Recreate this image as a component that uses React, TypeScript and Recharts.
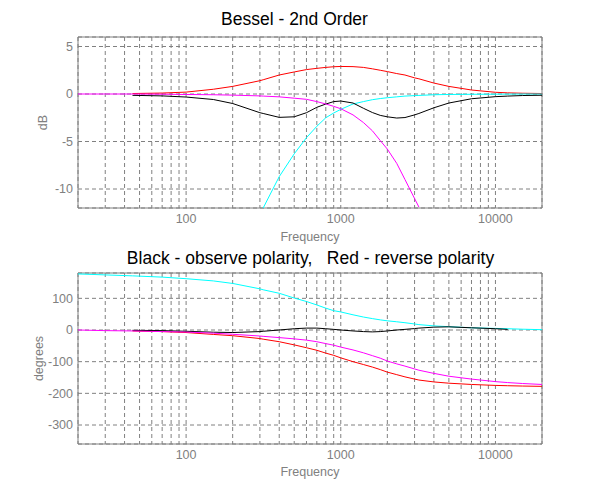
import { LineChart, Line, XAxis, YAxis, CartesianGrid, ReferenceArea } from 'recharts';

const freqs = [20, 30, 45, 70, 100, 150, 200, 300, 315, 400, 500, 600, 700, 800, 900, 1000, 1200, 1400, 1600, 1800, 2000, 2300, 2600, 3000, 3200, 4000, 5000, 7000, 10000, 12000, 15000, 20000];

// magnitude, dB
const redDb = [null, null, 0.05, 0.1, 0.2, 0.5, 0.8, 1.4, 1.5, 2.0, 2.32, 2.57, 2.7, 2.8, 2.87, 2.9, 2.88, 2.8, 2.65, 2.5, 2.36, 2.15, 2.0, 1.7, 1.6, 1.15, 0.8, 0.42, 0.18, 0.12, 0.08, 0.05];
const blackDb = [null, null, -0.14, -0.2, -0.32, -0.58, -1.0, -1.97, -2.05, -2.46, -2.4, -1.97, -1.4, -1.06, -0.8, -0.74, -0.95, -1.5, -1.95, -2.25, -2.4, -2.53, -2.48, -2.2, -2.05, -1.45, -0.95, -0.5, -0.28, -0.22, -0.16, -0.13];
const magentaDb = [0, 0, 0, -0.02, -0.05, -0.08, -0.12, -0.2, -0.22, -0.3, -0.44, -0.56, -0.8, -1.05, -1.3, -1.55, -2.2, -3.0, -3.87, -4.9, -5.8, -7.3, -9.0, -11.0, -11.9, null, null, null, null, null, null, null];
const cyanDb = [null, null, null, null, null, null, null, null, -12.0, -8.7, -6.3, -4.6, -3.4, -2.5, -2.0, -1.62, -1.05, -0.8, -0.6, -0.48, -0.39, -0.3, -0.22, -0.17, -0.15, -0.08, -0.05, -0.03, -0.02, -0.01, 0, 0];

// phase, degrees
const redDeg = [null, null, -3, -5, -8, -14, -18, -27, -29, -37, -47, -56, -64, -73, -80, -88, -100, -109, -117, -125, -133, -141, -148, -155, -158, -164, -168, -172, -175, -176, -177, -178];
const blackDeg = [null, null, -1, -2, -4, -7, -8, -5, -4, 0, 4, 6, 6, 4, 2, 0, -3, -5, -6, -5, -3, 0, 2, 4.5, 6, 9, 10, 7, 4, 2, null, null];
const magentaDeg = [0, -2, -3, -5, -6.5, -10, -13.5, -19, -20, -24, -28, -32, -37, -43, -48, -54, -63, -72, -81, -89, -98, -107, -114, -123, -127, -137, -146, -155, -163, -166, -169, -172];
const cyanDeg = [177, 174, 171, 167, 162, 155, 147, 130, 127, 116, 101, 90, 79, 69, 61, 57, 48, 41, 36, 32, 29, 26, 23, 19, 17, 13, 10.5, 7, 5, 4, 2.5, 1];

const freqTicks = [20, 30, 40, 50, 60, 70, 80, 90, 100, 200, 300, 400, 500, 600, 700, 800, 900, 1000, 2000, 3000, 4000, 5000, 6000, 7000, 8000, 9000, 10000, 20000];
const freqLabels = [100, 1000, 10000];
const dbTicks = [-10, -5, 0, 5];
const degTicks = [-300, -200, -100, 0, 100];

const magData = freqs.map((f, i) => ({ f, red: redDb[i], black: blackDb[i], magenta: magentaDb[i], cyan: cyanDb[i] }));
const phaseData = freqs.map((f, i) => ({ f, red: redDeg[i], black: blackDeg[i], magenta: magentaDeg[i], cyan: cyanDeg[i] }));

const FONT = '"Liberation Sans", Arial, sans-serif';
const GRAY = '#808080';
const tickStyle = { fill: GRAY, fontSize: 12.5 };

function Panel({ data, height, top, xHeight, yDomain, yTicks, yLabel, labelOffset, labelDx }: any) {
  return (
    <LineChart
      width={600}
      height={height}
      data={data}
      margin={{ top, right: 58, bottom: 0, left: 0 }}
      style={{ fontFamily: FONT }}
    >
      <CartesianGrid stroke={GRAY} strokeDasharray="4 3" />
      <XAxis
        dataKey="f"
        type="number"
        scale="log"
        domain={[20, 20000]}
        allowDataOverflow
        ticks={freqTicks}
        interval={0}
        tickFormatter={(v: number) => (freqLabels.includes(v) ? String(v) : '')}
        tick={tickStyle}
        tickLine={false}
        axisLine={false}
        tickSize={0}
        tickMargin={6}
        height={xHeight}
        label={{ value: 'Frequency', position: 'insideBottom', offset: labelOffset, fill: GRAY, fontSize: 12.5 }}
      />
      <YAxis
        type="number"
        domain={yDomain}
        allowDataOverflow
        ticks={yTicks}
        interval={0}
        tick={tickStyle}
        tickLine={false}
        axisLine={false}
        tickSize={0}
        tickMargin={5}
        width={78}
        label={{ value: yLabel, angle: -90, position: 'center', dx: labelDx, fill: GRAY, fontSize: 12.5 }}
      />
      <ReferenceArea x1={20} x2={20000} y1={yDomain[0]} y2={yDomain[1]} fill="none" stroke={GRAY} />
      <Line dataKey="red" stroke="#ff0000" dot={false} strokeWidth={1} isAnimationActive={false} />
      <Line dataKey="cyan" stroke="#00ffff" dot={false} strokeWidth={1} isAnimationActive={false} />
      <Line dataKey="black" stroke="#000000" dot={false} strokeWidth={1} isAnimationActive={false} />
      <Line dataKey="magenta" stroke="#ff00ff" dot={false} strokeWidth={1} isAnimationActive={false} />
    </LineChart>
  );
}

const titleStyle: any = {
  position: 'absolute',
  fontFamily: FONT,
  fontSize: 17.5,
  lineHeight: '20px',
  color: '#000',
  textAlign: 'center',
  whiteSpace: 'pre',
};

export default function App() {
  return (
    <div style={{ position: 'absolute', left: 0, top: 0, width: 600, height: 500, background: '#fff' }}>
      <div style={{ position: 'absolute', left: 0, top: 0 }}>
        <Panel data={magData} height={250} top={37} xHeight={42} yDomain={[-12, 6]} yTicks={dbTicks} yLabel="dB" labelOffset={9} labelDx={4} />
      </div>
      <div style={{ position: 'absolute', left: 0, top: 240 }}>
        <Panel data={phaseData} height={260} top={33} xHeight={56} yDomain={[-360, 180]} yTicks={degTicks} yLabel="degrees" labelOffset={24} labelDx={0} />
      </div>
      <div style={{ ...titleStyle, left: 0, width: 589, top: 9 }}>Bessel - 2nd Order</div>
      <div style={{ ...titleStyle, left: 20, width: 581, top: 248 }}>Black - observe polarity,   Red - reverse polarity</div>
    </div>
  );
}
